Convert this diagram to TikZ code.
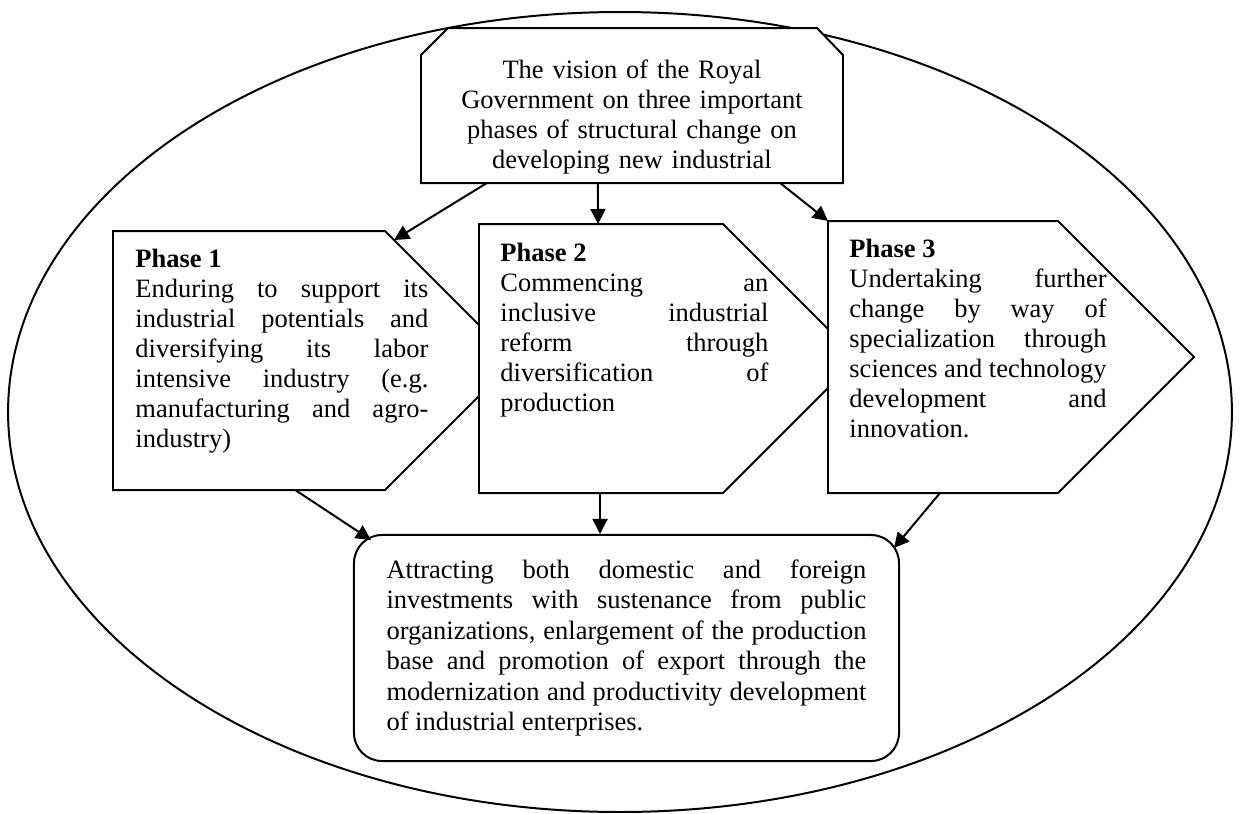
\documentclass[tikz,border=0pt]{standalone}
\usepackage{fontspec}
\setmainfont{Liberation Serif}
\usetikzlibrary{arrows.meta,calc}

% stretch each forced line to full width, never hyphenate
\newcommand\spreadlines{\tolerance=10000\relax\hyphenpenalty=10000\relax}

\tikzset{
  shapebox/.style={draw, line width=0.9pt, fill=white},
  phasetext/.style={anchor=north west, inner sep=0pt, align=justify,
    font=\fontsize{12}{13.6}\selectfont, execute at begin node=\spreadlines},
  link/.style={-{Triangle[length=6.8pt,width=6.8pt]}, line width=0.9pt},
}

\begin{document}
\begin{tikzpicture}[x=0.453pt, y=-0.453pt]
\useasboundingbox (0,0) rectangle (1240,814);
\draw[line width=0.9pt] (620,412) ellipse [x radius=277.2pt, y radius=181.2pt];

% the vision on top
\draw[shapebox] (421,55) -- (448,28) -- (817,28) -- (843,55) -- (843,183)
  -- coordinate[pos=.149] (v3) coordinate[pos=.581] (v2) coordinate[pos=.844] (v1) (421,183) -- cycle;
\node[anchor=north, inner sep=0pt, text width=200pt, align=center, font=\fontsize{12}{13.6}\selectfont]
  (vision) at (632,59.5) {The vision of the Royal\\ Government on three important\\ phases of structural change on\\ developing new industrial};

% the three phases, each one laid over the tip of the one before
\draw[shapebox] (113,231) -- (385,231) -- coordinate[pos=.07] (p1in) (514.5,360.5)
  -- (385,490) -- coordinate[pos=.33] (p1out) (113,490) -- cycle;
\node[phasetext, text width=132.7pt] (phase1) at (135,249) {\textbf{Phase 1}\\
  Enduring to support its\linebreak industrial potentials and\linebreak diversifying its labor\linebreak
  intensive industry (e.g.\linebreak manufacturing and agro-\linebreak industry)};

\draw[shapebox] (479,224) -- coordinate[pos=.488] (p2in) (723,224) -- (857.5,358.5)
  -- (723,493) -- coordinate[pos=.504] (p2out) (479,493) -- cycle;
\node[phasetext, text width=121.4pt] (phase2) at (500,243) {\textbf{Phase 2}\\
  Commencing an\linebreak inclusive industrial\linebreak reform through\linebreak
  diversification of\linebreak production};

\draw[shapebox] (828,221) coordinate (p3in) -- (1058,221) -- (1194,357)
  -- (1058,493) -- coordinate[pos=.513] (p3out) (828,493) -- cycle;
\node[phasetext, text width=116.5pt] (phase3) at (849,239) {\textbf{Phase 3}\\
  Undertaking further\linebreak change by way of\linebreak specialization through\linebreak
  sciences and technology\linebreak development and\linebreak innovation.};

% outcome
\node[shapebox, rounded corners=12.7pt, minimum width=246.9pt, minimum height=102.4pt,
  text width=217.4pt, align=justify, font=\fontsize{12}{13.85}\selectfont, execute at begin node=\spreadlines]
  (summary) at (626.5,648) {Attracting both domestic and foreign\linebreak
  investments with sustenance from public\linebreak organizations, enlargement of the production\linebreak
  base and promotion of export through the\linebreak modernization and productivity development\linebreak
  of industrial enterprises.};

\draw[link] (v1) -- (p1in);
\draw[link] (v2) -- (p2in);
\draw[link] (v3) -- (p3in);
\draw[link] (p1out) -- ($(summary.north west)+(18,6)$);
\draw[link] (p2out) -- (p2out |- summary.north);
\draw[link] (p3out) -- ($(summary.north east)+(-6,14)$);
\end{tikzpicture}
\end{document}
